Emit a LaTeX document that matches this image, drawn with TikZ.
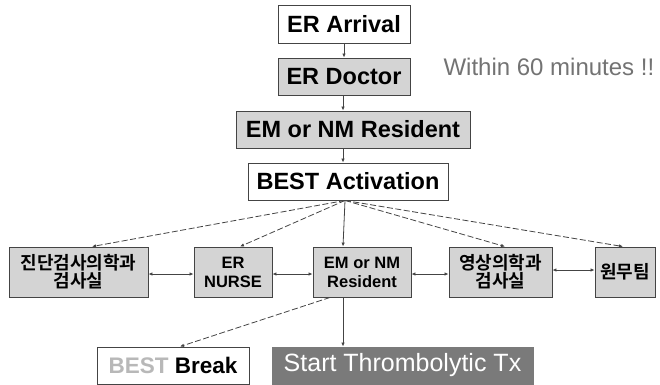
\documentclass[tikz,border=0pt]{standalone}
\usepackage{fontspec}
\setmainfont{Liberation Sans}
\newfontfamily\kr{Noto Sans CJK KR}[BoldFont={* Bold}]
\usetikzlibrary{arrows.meta}
\definecolor{boxgray}{HTML}{D4D4D4}
\definecolor{linegray}{HTML}{444444}
\definecolor{darkbox}{HTML}{7A7A7A}
\begin{document}
\begin{tikzpicture}[x=1pt,y=-1pt,
  box/.style={draw=linegray,line width=0.9pt,inner sep=0pt,align=center,font=\bfseries\fontsize{23.5}{26}\selectfont},
  wbox/.style={box,fill=white},
  gbox/.style={box,fill=boxgray},
  sbox/.style={draw=linegray,line width=0.9pt,fill=boxgray,inner sep=0pt,align=center,minimum height=50pt,font=\bfseries\fontsize{16.5}{20}\selectfont},
  kbox/.style={sbox,font=\kr\bfseries\fontsize{18}{21}\selectfont},
  arr/.style={draw=linegray,line width=0.8pt,-{Latex[length=4pt,width=3.5pt]}},
  darr/.style={draw=linegray,line width=0.8pt,{Latex[length=4pt,width=3.5pt]}-{Latex[length=4pt,width=3.5pt]}},
  dsh/.style={arr,dash pattern=on 6pt off 2.5pt}
]
\useasboundingbox (0,0) rectangle (660,384);
\node[wbox,minimum width=132pt,minimum height=38pt] (er) at (344,24) {ER Arrival};
\node[gbox,minimum width=132pt,minimum height=37pt] (doc) at (344,76.5) {ER Doctor};
\node[gbox,minimum width=234pt,minimum height=37pt] (res1) at (353,129.5) {EM or NM Resident};
\node[wbox,minimum width=200pt,minimum height=37pt] (act) at (348,181.5) {BEST Activation};
\node[text=black!55,font=\fontsize{24}{26}\selectfont,anchor=west] (within) at (440,67) {Within 60 minutes !!};

\node[kbox,minimum width=139pt] (lab) at (78.5,272) {진단검사의학과\\[-3pt]검사실};
\node[sbox,minimum width=78pt] (nurse) at (233,272) {ER\\[-1pt]NURSE};
\node[sbox,minimum width=98pt] (res2) at (362,272) {EM or NM\\[-1pt]Resident};
\node[kbox,minimum width=103pt] (rad) at (500.5,272) {영상의학과\\[-3pt]검사실};
\node[kbox,minimum width=60pt] (adm) at (625,272) {원무팀};

\node[wbox,minimum width=152pt,minimum height=37pt,font=\bfseries\fontsize{22.5}{26}\selectfont] (brk) at (173,365.5) {\textcolor{black!28}{BEST} Break};
\node[draw=darkbox,fill=darkbox,text=white,line width=0.9pt,minimum width=261pt,minimum height=37pt,inner sep=0pt,font=\fontsize{25}{28}\selectfont] (thr) at (402.5,365.5) {Start Thrombolytic Tx};

% vertical chain
\draw[arr] (er.south) -- (doc.north);
\draw[arr] ([xshift=-1pt]doc.south) -- ([xshift=-1pt]doc.south |- res1.north);
\draw[arr] ([xshift=-1pt]doc.south |- res1.south) -- ([xshift=-1pt]doc.south |- act.north);

% from activation
\coordinate (o) at ([xshift=-3pt]act.south);
\draw[dsh] (o) -- ([xshift=13.5pt]lab.north);
\draw[dsh] (o) -- ([xshift=7pt]nurse.north);
\draw[arr] (o) -- ([xshift=-19pt]res2.north);
\draw[dsh] (o) -- ([xshift=4.5pt]rad.north);
\draw[dsh] (o) -- ([xshift=-2pt]adm.north);

% horizontal links
\draw[darr] ([yshift=-2pt]lab.east) -- ([yshift=-2pt]nurse.west);
\draw[darr] ([yshift=-2pt]nurse.east) -- ([yshift=-2pt]res2.west);
\draw[darr] ([yshift=-2pt]res2.east) -- ([yshift=-2pt]rad.east -| rad.west);
\draw[darr] ([yshift=2pt]rad.east) -- ([yshift=2pt]adm.west);

% from resident
\coordinate (p) at ([xshift=-32pt]res2.south);
\draw[dsh] (p) -- ([xshift=7pt]brk.north);
\draw[arr] ([xshift=-19pt]res2.south) -- ([xshift=-19pt]res2.south |- thr.north);
\end{tikzpicture}
\end{document}
